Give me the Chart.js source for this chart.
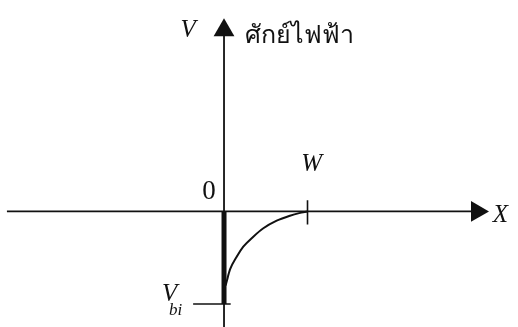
<!DOCTYPE html>
<html>
<head>
<meta charset="utf-8">
<script src="https://cdn.jsdelivr.net/npm/chart.js@4/dist/chart.umd.min.js"></script>
<style>
  html, body { margin: 0; padding: 0; background: #fff; }
  #wrap { width: 518px; height: 327px; }
</style>
</head>
<body>
<div id="wrap"><canvas id="potential" width="518" height="327"></canvas></div>
<script>
// potential across the depletion region, x in units of W, V in units of Vbi
const potX = [0.02, 0.032, 0.072, 0.152, 0.231, 0.351, 0.471, 0.631, 0.79, 0.9, 1.0];
const potV = [-0.80, -0.757, -0.627, -0.489, -0.381, -0.273, -0.182, -0.10, -0.046, -0.018, 0];

// axis ends and the two marked points on the axes
const axisX = [-2.6, 3.03];
const axisY = [-1.3, 1.96];
const barV = [0, -1];
const vbiTickX = [-0.37, 0.08];
const wTickV = [0.12, -0.14];

const ink = '#111';

const serifItalic = 'italic 25px "Liberation Serif", "DejaVu Serif", serif';
const labels = [
    { text: 'V', x: -0.43, y: 1.96, font: serifItalic, align: 'center' },
    { text: 'ศักย์ไฟฟ้า', x: 0.25, y: 1.9, font: '25px "Noto Sans", "DejaVu Sans", sans-serif', align: 'left' },
    { text: '0', x: -0.18, y: 0.21, font: '27px "Liberation Serif", serif', align: 'center' },
    { text: 'W', x: 1.05, y: 0.51, font: serifItalic, align: 'center' },
    { text: 'X', x: 3.31, y: -0.04, font: serifItalic, align: 'center' },
    { text: 'V', x: -0.65, y: -0.9, font: serifItalic, align: 'center' },
    { text: 'bi', x: -0.58, y: -1.07, font: 'italic 17px "Liberation Serif", serif', align: 'center' }
];

function seg(xs, ys) {
    return xs.map((x, i) => ({ x: x, y: ys[i] }));
}

function lineSet(data, width) {
    return {
        data: data,
        showLine: true,
        borderColor: ink,
        borderWidth: width,
        pointRadius: 0,
        fill: false
    };
}

const textPlugin = {
    id: 'axisText',
    afterDatasetsDraw(chart) {
        const ctx = chart.ctx;
        const sx = chart.scales.x, sy = chart.scales.y;
        ctx.save();
        ctx.fillStyle = ink;
        ctx.textBaseline = 'middle';
        labels.forEach(l => {
            ctx.font = l.font;
            ctx.textAlign = l.align;
            ctx.fillText(l.text, sx.getPixelForValue(l.x), sy.getPixelForValue(l.y));
        });
        ctx.restore();
    }
};

const curve = lineSet(seg(potX, potV), 2);
curve.cubicInterpolationMode = 'monotone';

new Chart(document.getElementById('potential'), {
    type: 'scatter',
    data: {
        datasets: [
            lineSet([{ x: axisX[0], y: 0 }, { x: axisX[1], y: 0 }], 1.8),
            lineSet([{ x: 0, y: axisY[0] }, { x: 0, y: axisY[1] }], 1.8),
            lineSet([{ x: 0, y: barV[0] }, { x: 0, y: barV[1] }], 5),
            lineSet([{ x: vbiTickX[0], y: -1 }, { x: vbiTickX[1], y: -1 }], 1.6),
            lineSet([{ x: 1, y: wTickV[0] }, { x: 1, y: wTickV[1] }], 1.6),
            curve,
            {
                // arrow heads
                data: [{ x: axisX[1], y: 0 }, { x: 0, y: axisY[1] }],
                showLine: false,
                pointStyle: 'triangle',
                rotation: [90, 0],
                pointRadius: 12,
                backgroundColor: ink,
                borderColor: ink,
                borderWidth: 0
            }
        ]
    },
    options: {
        responsive: false,
        animation: false,
        layout: { padding: 0, autoPadding: false },
        plugins: { legend: { display: false }, tooltip: { enabled: false } },
        scales: {
            x: { type: 'linear', display: false, bounds: 'data', min: -2.683, max: 3.521 },
            y: { type: 'linear', display: false, bounds: 'data', min: -1.249, max: 2.286 }
        }
    },
    plugins: [textPlugin]
});
</script>
</body>
</html>
